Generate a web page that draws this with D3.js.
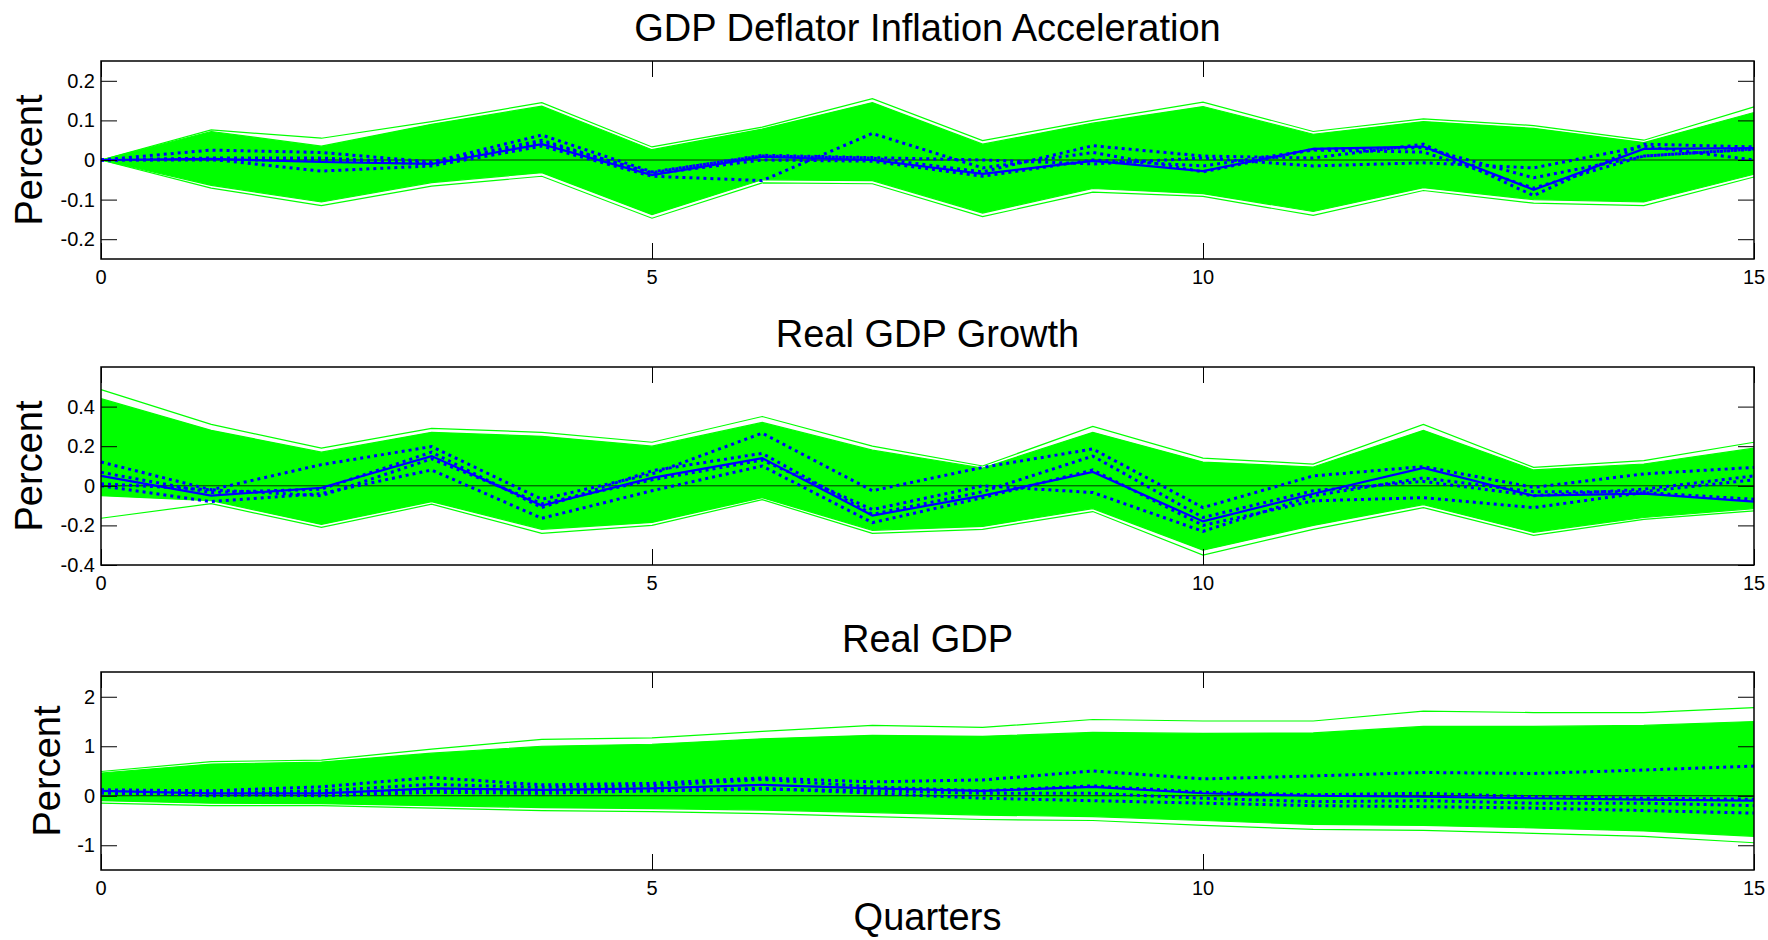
<!DOCTYPE html>
<html>
<head>
<meta charset="utf-8">
<script src="https://cdn.jsdelivr.net/npm/d3@7"></script>
<style>
  body { margin: 0; background: #fff; }
  text { font-family: "Liberation Sans", Arial, sans-serif; fill: #000; }
</style>
</head>
<body>
<div class="main"></div>
<script>
////Data
const quarters = d3.range(0, 16);
const xTicks = [0, 5, 10, 15];

const titles = ['GDP Deflator Inflation Acceleration', 'Real GDP Growth', 'Real GDP'];
const yDomains = [[-0.25, 0.25], [-0.4, 0.6], [-1.5, 2.5]];
const yTicks = [[-0.2, -0.1, 0, 0.1, 0.2], [-0.4, -0.2, 0, 0.2, 0.4], [-1, 0, 1, 2]];
const yTickLabels = [['-0.2', '-0.1', '0', '0.1', '0.2'], ['-0.4', '-0.2', '0', '0.2', '0.4'], ['-1', '0', '1', '2']];

// green band of simulated paths: outer lines and dense core
const inflOuterHi = [0, 0.076, 0.055, 0.097, 0.145, 0.033, 0.083, 0.155, 0.049, 0.1, 0.146, 0.072, 0.104, 0.087, 0.05, 0.134];
const inflOuterLo = [0, -0.071, -0.115, -0.066, -0.041, -0.147, -0.058, -0.06, -0.143, -0.081, -0.092, -0.14, -0.077, -0.109, -0.115, -0.043];
const inflCoreHi = [0, 0.072, 0.035, 0.09, 0.136, 0.026, 0.078, 0.145, 0.04, 0.093, 0.135, 0.065, 0.097, 0.08, 0.044, 0.12];
const inflCoreLo = [0, -0.064, -0.106, -0.057, -0.032, -0.138, -0.05, -0.052, -0.134, -0.072, -0.085, -0.13, -0.07, -0.1, -0.106, -0.036];

const growthOuterHi = [0.486, 0.31, 0.19, 0.29, 0.27, 0.22, 0.35, 0.2, 0.1, 0.3, 0.14, 0.11, 0.31, 0.093, 0.127, 0.22];
const growthOuterLo = [-0.164, -0.09, -0.21, -0.093, -0.24, -0.2, -0.07, -0.24, -0.22, -0.13, -0.35, -0.22, -0.11, -0.25, -0.17, -0.127];
const growthCoreHi = [0.44, 0.28, 0.17, 0.27, 0.25, 0.2, 0.32, 0.18, 0.09, 0.27, 0.12, 0.095, 0.28, 0.08, 0.11, 0.19];
const growthCoreLo = [-0.05, -0.075, -0.195, -0.08, -0.22, -0.185, -0.06, -0.225, -0.205, -0.115, -0.325, -0.2, -0.095, -0.235, -0.16, -0.115];

const gdpOuterHi = [0.49, 0.69, 0.72, 0.94, 1.14, 1.17, 1.3, 1.42, 1.38, 1.54, 1.51, 1.51, 1.71, 1.68, 1.68, 1.78];
const gdpOuterLo = [-0.15, -0.2, -0.2, -0.25, -0.3, -0.32, -0.36, -0.42, -0.48, -0.5, -0.6, -0.68, -0.7, -0.76, -0.82, -0.95];
const gdpCoreHi = [0.46, 0.64, 0.68, 0.86, 1.0, 1.04, 1.15, 1.22, 1.2, 1.28, 1.26, 1.27, 1.4, 1.4, 1.42, 1.5];
const gdpCoreLo = [-0.1, -0.15, -0.16, -0.2, -0.24, -0.26, -0.29, -0.34, -0.39, -0.42, -0.5, -0.58, -0.6, -0.65, -0.71, -0.82];

// blue paths: one solid, four dotted
const inflSolid = [0, 0.003, -0.005, -0.01, 0.04, -0.038, 0.008, 0, -0.035, -0.002, -0.028, 0.028, 0.034, -0.075, 0.028, 0.03];
const inflDot1 = [0, 0.025, 0.019, -0.005, 0.063, -0.03, 0.01, 0.005, -0.03, 0.036, 0.01, 0.005, 0.04, -0.09, 0.04, 0.033];
const inflDot2 = [0, 0.002, -0.028, -0.015, 0.035, -0.041, -0.052, 0.067, -0.02, 0.019, -0.03, 0.027, 0.031, -0.045, 0.01, 0.027];
const inflDot3 = [0, 0, 0, -0.01, 0.045, -0.032, 0.012, 0.006, 0, -0.01, 0.005, -0.015, -0.007, -0.02, 0.035, 0];
const inflDot4 = [0, 0.005, 0.005, -0.008, 0.05, -0.035, 0, -0.003, -0.041, 0, -0.015, 0.025, 0.02, -0.071, 0.01, 0.028];

const growthSolid = [0.05, -0.05, -0.01, 0.15, -0.1, 0.04, 0.14, -0.15, -0.05, 0.07, -0.18, -0.04, 0.09, -0.05, -0.04, -0.08];
const growthDot1 = [0.12, -0.02, 0.107, 0.198, -0.068, 0.06, 0.266, -0.025, 0.093, 0.186, -0.11, 0.05, 0.097, -0.008, 0.06, 0.093];
const growthDot2 = [0.068, -0.034, -0.017, 0.17, -0.11, 0.076, 0.164, -0.144, -0.03, 0.15, -0.16, -0.025, 0.022, -0.05, -0.017, 0.05];
const growthDot3 = [0, -0.08, -0.039, 0.08, -0.164, -0.025, 0.1, -0.186, -0.06, 0.08, -0.2, -0.076, -0.06, -0.11, -0.034, -0.068];
const growthDot4 = [0.01, -0.02, -0.05, 0.136, -0.09, 0.03, 0.13, -0.12, 0, -0.034, -0.23, -0.05, 0.04, -0.03, -0.03, 0.03];

const gdpSolid = [0.1, 0.05, 0.05, 0.15, 0.12, 0.15, 0.22, 0.15, 0.1, 0.18, 0.05, 0, -0.02, -0.05, -0.08, -0.1];
const gdpDot1 = [0.12, 0.1, 0.18, 0.37, 0.22, 0.25, 0.36, 0.28, 0.32, 0.5, 0.34, 0.4, 0.47, 0.45, 0.52, 0.6];
const gdpDot2 = [0.08, 0.05, 0.1, 0.23, 0.17, 0.2, 0.33, 0.18, 0.1, 0.2, 0.07, 0.02, 0.05, -0.02, -0.05, -0.07];
const gdpDot3 = [0.05, 0.03, 0, 0.07, 0.05, 0.1, 0.13, 0.1, 0.05, 0.05, -0.05, -0.12, -0.1, -0.15, -0.15, -0.2];
const gdpDot4 = [0.1, 0, 0.05, 0.12, 0.1, 0.1, 0.15, 0.05, -0.05, -0.1, -0.15, -0.2, -0.22, -0.25, -0.3, -0.35];

const bands = [
  [inflOuterHi, inflOuterLo, inflCoreHi, inflCoreLo],
  [growthOuterHi, growthOuterLo, growthCoreHi, growthCoreLo],
  [gdpOuterHi, gdpOuterLo, gdpCoreHi, gdpCoreLo]
];
const solids = [inflSolid, growthSolid, gdpSolid];
const dotted = [
  [inflDot1, inflDot2, inflDot3, inflDot4],
  [growthDot1, growthDot2, growthDot3, growthDot4],
  [gdpDot1, gdpDot2, gdpDot3, gdpDot4]
];

////Global Variables
const width = 1768;
const height = 940;
const left = 101;
const right = 1754;
const plotH = 198;
const tops = [61, 367, 672];
const labelX = [42, 42, 60];
const tickLen = 16;

const svg = d3.select('.main').append('svg')
  .attr('width', width)
  .attr('height', height);

const xScale = d3.scaleLinear().domain([0, 15]).range([left, right]);

////Panels
function drawPanel(i) {
  const top = tops[i];
  const yScale = d3.scaleLinear().domain(yDomains[i]).range([top + plotH, top]);
  const g = svg.append('g');
  const line = d3.line().x((d, k) => xScale(quarters[k])).y(d => yScale(d));
  const [oHi, oLo, cHi, cLo] = bands[i];

  const area = d3.area()
    .x((d, k) => xScale(quarters[k]))
    .y0((d, k) => yScale(cLo[k]))
    .y1(d => yScale(d));
  g.append('path').datum(cHi)
    .attr('d', area)
    .attr('fill', '#00ff00');

  [oHi, oLo, cHi, cLo].forEach(s => {
    g.append('path').datum(s)
      .attr('d', line)
      .attr('fill', 'none')
      .attr('stroke', '#00ff00')
      .attr('stroke-width', 1.2);
  });

  // zero line
  g.append('line')
    .attr('x1', left).attr('x2', right)
    .attr('y1', yScale(0)).attr('y2', yScale(0))
    .attr('stroke', '#000').attr('stroke-width', 0.8);

  dotted[i].forEach(s => {
    g.append('path').datum(s)
      .attr('d', line)
      .attr('fill', 'none')
      .attr('stroke', '#0000ff')
      .attr('stroke-width', 3)
      .attr('stroke-dasharray', '3,4');
  });
  g.append('path').datum(solids[i])
    .attr('d', line)
    .attr('fill', 'none')
    .attr('stroke', '#0000ff')
    .attr('stroke-width', 2.2);

  ////Axes, ticks pointing inward on all four sides
  const yAxisL = d3.axisRight(yScale).tickValues(yTicks[i]).tickSize(tickLen).tickFormat('');
  const yAxisR = d3.axisLeft(yScale).tickValues(yTicks[i]).tickSize(tickLen).tickFormat('');
  const xAxisB = d3.axisTop(xScale).tickValues(xTicks).tickSize(tickLen).tickFormat('');
  const xAxisT = d3.axisBottom(xScale).tickValues(xTicks).tickSize(tickLen).tickFormat('');
  [[yAxisL, `translate(${left},0)`], [yAxisR, `translate(${right},0)`],
   [xAxisB, `translate(0,${top + plotH})`], [xAxisT, `translate(0,${top})`]].forEach(([ax, tr]) => {
    const a = g.append('g').attr('transform', tr).call(ax);
    a.select('.domain').remove();
    a.selectAll('line').attr('stroke', '#000').attr('stroke-width', 1);
  });

  g.append('rect')
    .attr('x', left).attr('y', top)
    .attr('width', right - left).attr('height', plotH)
    .attr('fill', 'none').attr('stroke', '#000').attr('stroke-width', 1.5);

  g.selectAll('.ylab').data(yTicks[i]).enter().append('text')
    .attr('x', left - 6)
    .attr('y', d => yScale(d))
    .attr('dy', '0.35em')
    .attr('text-anchor', 'end')
    .style('font-size', '20px')
    .text((d, k) => yTickLabels[i][k]);

  g.selectAll('.xlab').data(xTicks).enter().append('text')
    .attr('x', d => xScale(d))
    .attr('y', top + plotH + 25)
    .attr('text-anchor', 'middle')
    .style('font-size', '20px')
    .text(d => d);

  g.append('text')
    .attr('x', (left + right) / 2)
    .attr('y', top - 20)
    .attr('text-anchor', 'middle')
    .style('font-size', '38px')
    .text(titles[i]);

  g.append('text')
    .attr('transform', `translate(${labelX[i]},${top + plotH / 2}) rotate(-90)`)
    .attr('text-anchor', 'middle')
    .style('font-size', '38px')
    .text('Percent');
}

[0, 1, 2].forEach(drawPanel);

svg.append('text')
  .attr('x', (left + right) / 2)
  .attr('y', 930)
  .attr('text-anchor', 'middle')
  .style('font-size', '38px')
  .text('Quarters');
</script>
</body>
</html>
